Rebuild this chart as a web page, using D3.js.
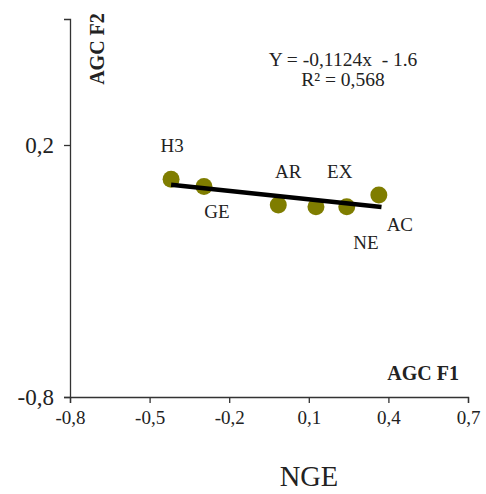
<!DOCTYPE html>
<html>
<head>
<meta charset="utf-8">
<script src="https://cdn.jsdelivr.net/npm/d3@7"></script>
<style>
  html, body { margin: 0; padding: 0; background: #fff; }
  svg { display: block; font-family: "Liberation Serif", "Times New Roman", serif; }
</style>
</head>
<body>
<svg id="chart" width="486" height="494"></svg>
<script>
// Group coordinates on the first two factors
const groups = ["H3", "GE", "AR", "NE", "EX", "AC"];
const f1Values = [-0.419, -0.295, -0.015, 0.127, 0.243, 0.364];
const f2Values = [0.064, 0.035, -0.038, -0.045, -0.045, 0.002];

const xTicks = [-0.8, -0.5, -0.2, 0.1, 0.4, 0.7];
const yTicks = [-0.8, 0.2];

const trendSlope = -0.1124;
const equationLines = ["Y = -0,1124x  - 1.6", "R\u00b2 = 0,568"];

const svg = d3.select("#chart");
const x = d3.scaleLinear().domain([-0.8, 0.7]).range([70, 468]);
const y = d3.scaleLinear().domain([-0.8, 0.7]).range([397, 19]);

const fmt = d => d3.format(".1f")(d).replace("\u2212", "-").replace(".", ",");
const axisColor = "#333";
const serif = "Liberation Serif";

// X axis
const gx = svg.append("g").attr("transform", `translate(0,${y(-0.8)})`)
  .call(d3.axisBottom(x).tickValues(xTicks).tickFormat(fmt).tickSizeOuter(0).tickSize(6).tickPadding(8));
gx.select(".domain").attr("stroke", axisColor).attr("stroke-width", 1.3);
gx.selectAll(".tick line").attr("stroke", axisColor).attr("stroke-width", 1.3);
gx.selectAll(".tick text").attr("font-family", serif).attr("font-size", 19).attr("fill", "#222");

// Y axis
const gy = svg.append("g").attr("transform", `translate(${x(-0.8)},0)`)
  .call(d3.axisLeft(y).tickValues(yTicks).tickFormat(fmt).tickSizeOuter(0).tickSize(6).tickPadding(10));
gy.select(".domain").attr("stroke", axisColor).attr("stroke-width", 1.3);
gy.selectAll(".tick line").attr("stroke", axisColor).attr("stroke-width", 1.3);
gy.selectAll(".tick text").attr("font-family", serif).attr("font-size", 23).attr("fill", "#222");

// Points
const pts = groups.map((g, i) => ({ g, fx: f1Values[i], fy: f2Values[i] }));
svg.append("g").selectAll("circle").data(pts).join("circle")
  .attr("cx", d => x(d.fx)).attr("cy", d => y(d.fy)).attr("r", 8.5)
  .attr("fill", "#7f7d00");

// Trend line with the stated slope through the centroid
const mx = d3.mean(f1Values), my = d3.mean(f2Values);
const b = my - trendSlope * mx;
const x0 = d3.min(f1Values), x1 = d3.max(f1Values) + 0.01;
svg.append("line")
  .attr("x1", x(x0)).attr("y1", y(trendSlope * x0 + b))
  .attr("x2", x(x1)).attr("y2", y(trendSlope * x1 + b))
  .attr("stroke", "#000").attr("stroke-width", 4.5);

// Point labels, offset from each point
const labelOffset = {
  H3: [1, -34], GE: [13, 25], AR: [10, -33], NE: [50, 36], EX: [-7, -35], AC: [21, 30]
};
svg.append("g").selectAll("text").data(pts).join("text")
  .attr("x", d => x(d.fx) + labelOffset[d.g][0])
  .attr("y", d => y(d.fy) + labelOffset[d.g][1])
  .attr("text-anchor", "middle").attr("dominant-baseline", "central")
  .attr("font-size", 19).attr("fill", "#222")
  .text(d => d.g);

// Regression equation
svg.append("g").selectAll("text").data(equationLines).join("text")
  .attr("x", 343).attr("y", (d, i) => 59 + i * 20)
  .attr("text-anchor", "middle").attr("dominant-baseline", "central")
  .attr("xml:space", "preserve")
  .style("white-space", "pre")
  .attr("font-size", 19.5).attr("fill", "#222")
  .text(d => d);

// Axis titles
svg.append("text")
  .attr("transform", "translate(97,49) rotate(-90)")
  .attr("text-anchor", "middle").attr("dominant-baseline", "central")
  .attr("font-size", 20).attr("font-weight", "bold").attr("fill", "#222")
  .text("AGC F2");
svg.append("text")
  .attr("x", 459).attr("y", 373)
  .attr("text-anchor", "end").attr("dominant-baseline", "central")
  .attr("font-size", 20).attr("font-weight", "bold").attr("fill", "#222")
  .text("AGC F1");
svg.append("text")
  .attr("x", 309).attr("y", 476)
  .attr("text-anchor", "middle").attr("dominant-baseline", "central")
  .attr("font-size", 28.5).attr("fill", "#222")
  .text("NGE");
</script>
</body>
</html>
